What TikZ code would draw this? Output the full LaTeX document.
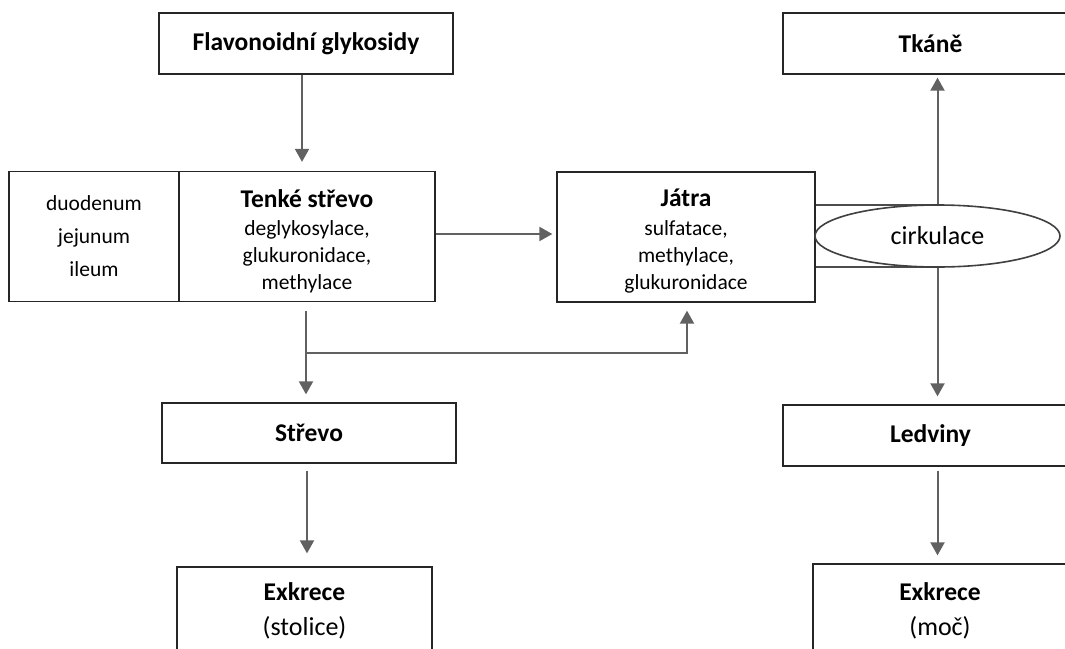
\documentclass[tikz,border=0pt]{standalone}
\usepackage{fontspec}
\setmainfont{Carlito}
\usetikzlibrary{arrows.meta,shapes.geometric}
\newcommand\hf{\fontsize{25.5}{30}\selectfont\bfseries}
\newcommand\bfn{\fontsize{21.5}{27}\selectfont}
\newcommand\lf{\fontsize{26}{35}\selectfont}
\tikzset{
  box/.style={draw=black!85, line width=1.3pt, rectangle, inner sep=0pt, align=center, fill=white},
  arr/.style={draw=black!62, line width=2pt, -{Triangle[width=14pt,length=13pt]}, color=black!62},
  ln/.style={draw=black!70, line width=1.6pt}
}
\begin{document}
\begin{tikzpicture}[x=1pt,y=-1pt]
\useasboundingbox (0,0) rectangle (1065,648);
\clip (0,0) rectangle (1065,648);
\fill[white] (0,0) rectangle (1065,648);
% boxes
\node[box, minimum width=294pt, minimum height=61pt] (flav) at (306,43.5) {\hf Flavonoidní glykosidy};
\node[box, minimum width=170pt, minimum height=130pt, font=\fontsize{21.5}{33}\selectfont] (seg) at (94,236.5)
  {duodenum\\jejunum\\ileum};
\node[box, minimum width=256pt, minimum height=130pt, font=\bfn] (tenke) at (307,236.5)
  {{\hf\rule{0pt}{27pt}Tenké střevo}\\[1pt]deglykosylace,\\glukuronidace,\\methylace};
\node[box, minimum width=258pt, minimum height=130pt, font=\bfn] (jatra) at (686,237)
  {{\hf\rule{0pt}{25pt}Játra}\\[2pt]sulfatace,\\methylace,\\glukuronidace};
\node[box, minimum width=294pt, minimum height=60pt] (strevo) at (309,433) {\hf Střevo};
\node[box, minimum width=255pt, minimum height=88pt, font=\lf] (stolice) at (304.5,611)
  {{\hf Exkrece}\\(stolice)};
\node[box, minimum width=295pt, minimum height=61pt] (tkane) at (930.5,43.5) {\hf Tkáně};
\node[box, minimum width=295pt, minimum height=61pt] (ledviny) at (930.5,435.5) {\hf Ledviny};
\node[box, minimum width=254pt, minimum height=94pt, font=\lf] (moc) at (940,611)
  {{\hf Exkrece}\\(moč)};
% circulation
\draw[ln] (jatra.east |- 938,205) -- (938,205);
\draw[ln] (jatra.east |- 938,267) -- (938,267);
\node[draw=black!75, line width=1.6pt, ellipse, fill=white, minimum width=245pt, minimum height=62pt, inner sep=0pt, font=\lf] (circ) at (937.5,236) {cirkulace};
% connectors
\draw[arr, shorten >=9pt] ([xshift=-4pt]flav.south) -- ([xshift=-4pt]flav.south |- tenke.north);
\draw[arr, shorten >=4pt] ([yshift=2.5pt]tenke.east) -- ([yshift=2.5pt]tenke.east -| jatra.west);
\draw[arr, shorten <=9pt, shorten >=8pt] ([xshift=-1pt]tenke.south) -- ([xshift=-1pt]tenke.south |- strevo.north);
\coordinate (br) at (306,353);
\draw[arr, shorten >=8pt] (br) -| ([xshift=1pt]jatra.south);
\draw[arr, shorten <=7pt, shorten >=13pt] ([xshift=-2pt]strevo.south) -- ([xshift=-2pt]strevo.south |- stolice.north);
\draw[arr, shorten >=3pt] (circ.north) -- (circ.north |- tkane.south);
\draw[arr, shorten >=8pt] (circ.south) -- (circ.south |- ledviny.north);
\draw[arr, shorten <=4pt, shorten >=8pt] (circ.south |- ledviny.south) -- (circ.south |- moc.north);
\end{tikzpicture}
\end{document}
